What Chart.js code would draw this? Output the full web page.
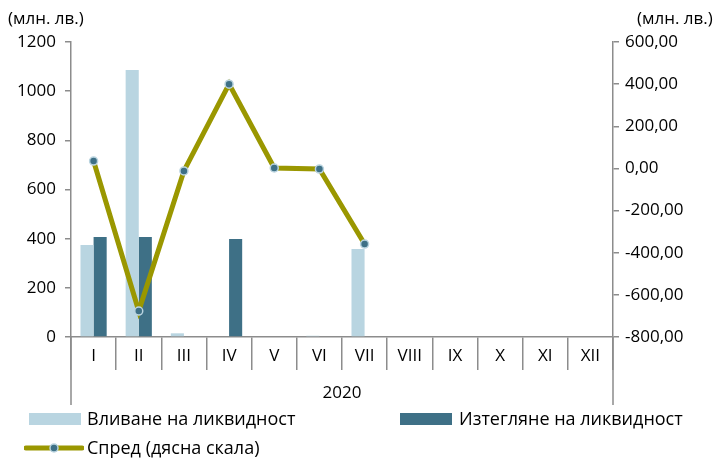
<!DOCTYPE html>
<html>
<head>
<meta charset="utf-8">
<script src="https://cdn.jsdelivr.net/npm/chart.js@4"></script>
<style>
  body { margin: 0; background: #fff; font-family: "Open Sans", sans-serif; color: #000; }
  #wrap { position: relative; width: 724px; height: 459px; }
  .unit { position: absolute; top: 6px; font-size: 17px; }
  .leg { position: absolute; font-size: 18px; line-height: 20px; white-space: nowrap; }
  .box { position: absolute; width: 52px; height: 12px; }
</style>
</head>
<body>
<div id="wrap">
  <canvas id="chart" width="724" height="459"></canvas>
  <span class="unit" style="left:8px">(млн. лв.)</span>
  <span class="unit" style="left:637px">(млн. лв.)</span>
  <div class="box" style="left:29px;top:413px;background:#b9d5e1"></div>
  <span class="leg" style="left:87px;top:408px">Вливане на ликвидност</span>
  <div class="box" style="left:400px;top:413px;background:#3e7086"></div>
  <span class="leg" style="left:459px;top:408px">Изтегляне на ликвидност</span>
  <svg style="position:absolute;left:24px;top:440px" width="60" height="16">
    <line x1="2" y1="8" x2="58" y2="8" stroke="#9a9700" stroke-width="5" stroke-linecap="round"/>
    <circle cx="30" cy="8" r="4" fill="#3e7086" stroke="#b9d3df" stroke-width="1.5"/>
  </svg>
  <span class="leg" style="left:87px;top:437px">Спред (дясна скала)</span>
</div>
<script>
const months = ["I", "II", "III", "IV", "V", "VI", "VII", "VIII", "IX", "X", "XI", "XII"];
const inflow = [374, 1086, 15, 0, 0, 5, 358, null, null, null, null, null];
const outflow = [407, 407, 0, 399, 0, 0, 0, null, null, null, null, null];
const spread = [35, -677, -12, 400, 2, -3, -359, null, null, null, null, null];

const tickFont = { family: "Open Sans", size: 17 };

// outer lines of the two-level category axis
const outerLines = {
  id: "outerLines",
  afterDraw(chart) {
    const ctx = chart.ctx;
    const a = chart.chartArea;
    ctx.save();
    ctx.strokeStyle = "#8c8c8c";
    ctx.lineWidth = 1.5;
    ctx.beginPath();
    ctx.moveTo(a.left, a.bottom);
    ctx.lineTo(a.left, a.bottom + 68);
    ctx.moveTo(a.right, a.bottom);
    ctx.lineTo(a.right, a.bottom + 68);
    ctx.stroke();
    ctx.restore();
  },
};

let ctx = document.getElementById("chart");
let chart = new Chart(ctx, {
  type: "bar",
  data: {
    labels: months,
    datasets: [
      {
        type: "line",
        label: "Спред (дясна скала)",
        data: spread,
        yAxisID: "y2",
        borderColor: "#9a9700",
        borderWidth: 5,
        pointRadius: 4,
        pointBackgroundColor: "#3e7086",
        pointBorderColor: "#b9d3df",
        pointBorderWidth: 1.5,
        tension: 0,
        order: 0,
      },
      {
        label: "Вливане на ликвидност",
        data: inflow,
        backgroundColor: "#b9d5e1",
        yAxisID: "y",
        categoryPercentage: 0.58,
        barPercentage: 1.0,
        order: 1,
      },
      {
        label: "Изтегляне на ликвидност",
        data: outflow,
        backgroundColor: "#3e7086",
        yAxisID: "y",
        categoryPercentage: 0.58,
        barPercentage: 1.0,
        order: 2,
      },
    ],
  },
  options: {
    responsive: false,
    animation: false,
    layout: { padding: { top: 42, bottom: 52, left: 0, right: 0 } },
    plugins: {
      legend: { display: false },
      tooltip: { enabled: false },
    },
    scales: {
      x: {
        offset: true,
        grid: {
          offset: true,
          drawOnChartArea: false,
          tickLength: 33,
          color: "#8c8c8c",
          lineWidth: 1.5,
        },
        border: { color: "#8c8c8c", width: 1.5 },
        ticks: { color: "#000", font: tickFont, padding: -24, maxRotation: 0 },
        title: { display: true, text: "2020", color: "#000", font: tickFont, padding: { top: 0 } },
        afterFit(scale) { scale.height = 70; },
      },
      y: {
        position: "left",
        min: 0,
        max: 1200,
        ticks: { stepSize: 200, color: "#000", font: tickFont, padding: 9, callback: (v) => String(v) },
        grid: { drawOnChartArea: false, tickLength: 6, color: "#8c8c8c", lineWidth: 1.5 },
        border: { color: "#8c8c8c", width: 1.5 },
        afterFit(scale) { scale.width = 71; },
      },
      y2: {
        position: "right",
        min: -800,
        max: 600,
        ticks: {
          stepSize: 200,
          color: "#000",
          font: tickFont,
          padding: 6,
          callback: (v) => v.toFixed(2).replace(".", ","),
        },
        grid: { drawOnChartArea: false, tickLength: 6, color: "#8c8c8c", lineWidth: 1.5 },
        border: { color: "#8c8c8c", width: 1.5 },
        afterFit(scale) { scale.width = 111; },
      },
    },
  },
  plugins: [outerLines],
});
</script>
</body>
</html>
